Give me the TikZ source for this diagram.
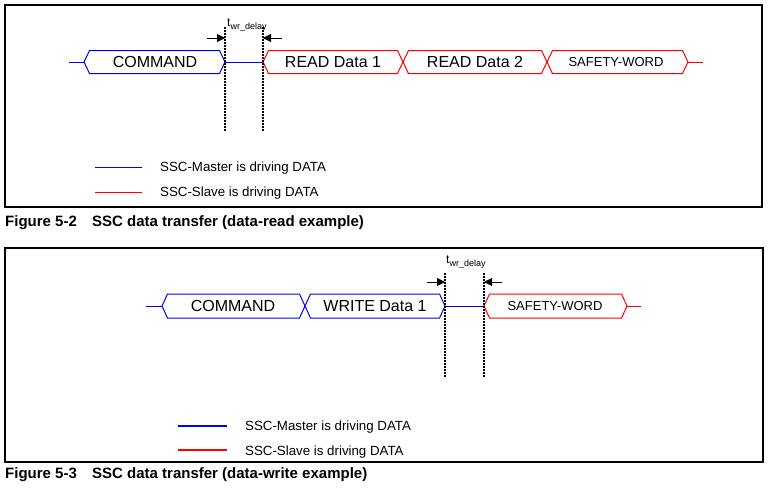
\documentclass[tikz,border=0pt]{standalone}
\usepackage{fontspec}
\setmainfont{Liberation Sans}
\usetikzlibrary{arrows.meta}

\begin{document}
\begin{tikzpicture}[x=1pt, y=-1pt,
    master/.style={draw=blue, line width=1pt},
    slave/.style={draw=red, line width=1pt},
    word/.style={font=\fontsize{16}{18}\selectfont, inner sep=0pt, text height=11.5pt, text depth=0pt},
    smallword/.style={font=\fontsize{13}{15}\selectfont, inner sep=0pt, text height=9.3pt, text depth=0pt},
    legend/.style={font=\fontsize{13.3}{15}\selectfont, anchor=base west, inner sep=0pt},
    caption/.style={font=\fontsize{15}{17}\bfseries\selectfont, anchor=base west, inner sep=0pt},
    delaylabel/.style={anchor=base west, inner sep=0pt},
    marker/.style={line width=1.5pt, dash pattern=on 1.5pt off 1.5pt},
    delay/.style={-{Triangle[length=8pt,width=8pt]}, line width=0.8pt},
    frame/.style={draw, line width=1.2pt}]
    \useasboundingbox (0,0) rectangle (771,488);
    \newcommand{\twr}{{\fontsize{12}{14}\selectfont t\raisebox{-2.8pt}{\fontsize{9}{10}\selectfont wr\_delay}}}

    % data-read example
    \draw[frame] (5,5) rectangle (762,207);
    \draw[master] (69,62) -- (84,62);
    \draw[master] (84,62) -- (89.5,50.5) -- (219.5,50.5) -- (225,62) -- (219.5,73.5) -- (89.5,73.5) -- cycle;
    \draw[master] (225,62) -- (263,62);
    \draw[slave] (263,62) -- (268.5,50.5) -- (397.5,50.5) -- (403,62) -- (397.5,73.5) -- (268.5,73.5) -- cycle;
    \draw[slave] (403,62) -- (408.5,50.5) -- (541.5,50.5) -- (547,62) -- (541.5,73.5) -- (408.5,73.5) -- cycle;
    \draw[slave] (547,62) -- (552.5,50.5) -- (682.5,50.5) -- (688,62) -- (682.5,73.5) -- (552.5,73.5) -- cycle;
    \draw[slave] (688,62) -- (703,62);
    \node[word] (cmd1) at (155,62) {COMMAND};
    \node[word] (rd1) at (333,62) {READ Data 1};
    \node[word] (rd2) at (475,62) {READ Data 2};
    \node[smallword] (sw1) at (616,62) {SAFETY-WORD};

    \coordinate (m1) at (225,27);
    \coordinate (m2) at (263,27);
    \draw[marker] (m1) -- (225,132);
    \draw[marker] (m2) -- (263,132);
    \coordinate (a1) at (207,38);
    \coordinate (a2) at (282,38);
    \draw[delay] (a1) -- (a1 -| m1);
    \draw[delay] (a2) -- (a2 -| m2);
    \node[delaylabel] (t1) at (227,26.5) {\twr};

    \draw[master, line width=0.8pt] (95,167) -- (142,167);
    \node[legend] (lm1) at (160,171.5) {SSC-Master is driving DATA};
    \draw[slave, line width=0.8pt] (95,192) -- (142,192);
    \node[legend] (ls1) at (160,196.5) {SSC-Slave is driving DATA};
    \node[caption] (f1) at (5,226.3) {Figure 5-2};
    \node[caption] (c1) at (92,226.3) {SSC data transfer (data-read example)};

    % data-write example
    \draw[frame] (5,248) rectangle (763,462);
    \draw[master] (146,306) -- (162,306);
    \draw[master] (162,306) -- (167.5,294) -- (299.5,294) -- (305,306) -- (299.5,318) -- (167.5,318) -- cycle;
    \draw[master] (305,306) -- (310.5,294) -- (439.5,294) -- (445,306) -- (439.5,318) -- (310.5,318) -- cycle;
    \draw[master] (445,306) -- (484,306);
    \draw[slave] (484,306) -- (489.5,294) -- (621.5,294) -- (627,306) -- (621.5,318) -- (489.5,318) -- cycle;
    \draw[slave] (627,306) -- (641,306);
    \node[word] (cmd2) at (233,306) {COMMAND};
    \node[word] (wr1) at (375,306) {WRITE Data 1};
    \node[smallword] (sw2) at (555,306) {SAFETY-WORD};

    \coordinate (m3) at (445,273);
    \coordinate (m4) at (484,273);
    \draw[marker] (m3) -- (445,377);
    \draw[marker] (m4) -- (484,377);
    \coordinate (a3) at (427,282);
    \coordinate (a4) at (502,282);
    \draw[delay] (a3) -- (a3 -| m3);
    \draw[delay] (a4) -- (a4 -| m4);
    \node[delaylabel] (t2) at (446,263.5) {\twr};

    \draw[master, line width=1.1pt] (178,426) -- (227,426);
    \node[legend] (lm2) at (245,430.5) {SSC-Master is driving DATA};
    \draw[slave, line width=1.1pt] (178,450) -- (227,450);
    \node[legend] (ls2) at (245,455) {SSC-Slave is driving DATA};
    \node[caption] (f2) at (5,478) {Figure 5-3};
    \node[caption] (c2) at (92,478) {SSC data transfer (data-write example)};
\end{tikzpicture}
\end{document}
